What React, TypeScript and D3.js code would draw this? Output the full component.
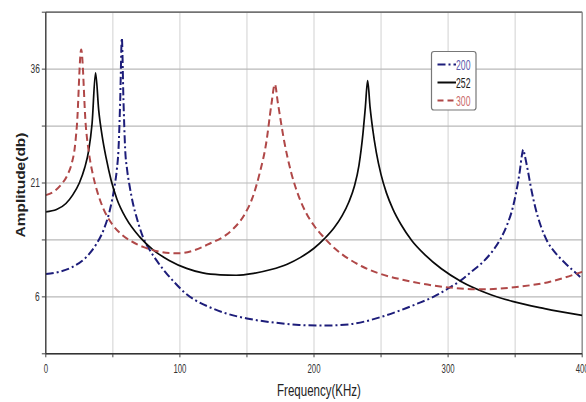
import React from "react";
import * as d3 from "d3";

// ---- Data ----
const freq200 = [0, 10, 20, 30, 37.5, 43.5, 48, 51.3, 53.0, 54.2, 55.5, 56.7, 57.9, 59.2, 60.6, 62.5, 65, 68, 72.4, 77.4, 83, 89, 96, 104, 112, 122, 134, 150, 170, 189, 207, 226, 249, 264, 277, 289, 300, 309, 318, 326, 333, 339, 344, 348, 351, 353.5, 355, 356, 357.2, 359.5, 362, 365, 369, 374, 380, 387, 393, 400];
const amp200 = [9.0, 9.3, 9.95, 11.2, 12.9, 15.0, 17.6, 20.6, 22.8, 25.4, 32, 40.1, 32, 25.4, 22.8, 20.6, 18.3, 16.3, 13.9, 12.2, 10.7, 9.3, 7.9, 6.5, 5.5, 4.65, 3.85, 3.15, 2.62, 2.3, 2.22, 2.38, 3.3, 4.2, 5.1, 6.0, 7.1, 8.1, 9.4, 10.6, 12.0, 13.6, 15.5, 17.6, 20.0, 22.6, 24.6, 25.4, 24.6, 22.6, 20.2, 17.8, 15.4, 13.3, 11.8, 10.5, 9.5, 8.4];

const freq252 = [0, 8, 15, 20, 25, 29, 32, 34.5, 37.1, 39.5, 42, 45, 48.8, 53, 60, 70, 80, 92, 105, 117, 130, 142, 155, 168, 180, 190, 200, 208, 215, 221, 226, 230, 233.5, 236.5, 238.3, 240, 241.8, 243.7, 246.5, 250, 254, 259, 265, 273, 283, 295, 310, 328, 348, 372, 400];
const amp252 = [17.2, 17.5, 18.3, 19.4, 21.0, 23.0, 25.3, 28.8, 35.5, 30.5, 27.2, 24.3, 21.3, 18.9, 16.3, 13.9, 12.2, 10.8, 9.75, 9.15, 8.9, 8.85, 9.1, 9.6, 10.3, 11.2, 12.4, 13.7, 15.1, 16.7, 18.5, 20.5, 23.3, 27.5, 31.0, 34.5, 31.0, 28.2, 25.0, 22.1, 19.7, 17.5, 15.5, 13.4, 11.5, 9.7, 8.0, 6.55, 5.4, 4.45, 3.55];

const freq300 = [0, 7, 12, 16, 19.5, 21.5, 23.2, 26.4, 29.8, 32.3, 35, 38.5, 43, 49, 56, 64, 73, 82, 92, 100, 110, 122, 134, 140, 148, 154, 159.5, 164.3, 168.2, 170.8, 173.1, 178.1, 183.1, 188.5, 194, 200, 207, 216, 226, 236, 250, 265, 280, 300, 326, 351, 376, 400];
const amp300 = [19.4, 20.0, 20.9, 22.0, 23.7, 25.5, 28.6, 38.6, 28.6, 24.8, 22.2, 19.8, 17.6, 15.7, 14.3, 13.3, 12.55, 12.05, 11.78, 11.75, 12.1, 13.0, 14.1, 15.0, 16.8, 19.0, 22.3, 26.2, 31.3, 34.0, 31.5, 26.2, 22.3, 19.3, 17.1, 15.4, 13.9, 12.3, 11.0, 10.0, 9.0, 8.3, 7.75, 7.25, 7.0, 7.3, 8.0, 9.3];

const seriesNames = ["200", "252", "300"];
const xTickLabels = [0, 100, 200, 300, 400];
const yTickLabels = [6, 21, 36];
const xTitle = "Frequency(KHz)";
const yTitle = "Amplitude(db)";

const W = 586;
const H = 402;

export default function App() {
  const x = d3.scaleLinear().domain([0, 400]).range([45.8, 582.2]);
  const y = d3.scaleLinear().domain([-1.5, 43.5]).range([353.8, 12.2]);

  const xGrid = d3.range(0, 401, 50);
  const yGrid = d3.range(-1.5, 43.6, 7.5);

  const line = d3
    .line<[number, number]>()
    .x((d) => x(d[0]))
    .y((d) => y(d[1]))
    .curve(d3.curveMonotoneX);

  const series = [
    { name: seriesNames[0], f: freq200, a: amp200, color: "#1d1d7a", dash: "8,3,2,3", width: 2, text: "#5c5cae" },
    { name: seriesNames[1], f: freq252, a: amp252, color: "#0a0a0a", dash: "", width: 1.7, text: "#1a1a1a" },
    { name: seriesNames[2], f: freq300, a: amp300, color: "#b04848", dash: "7,4", width: 2, text: "#cc6c6c" },
  ];

  const x0 = x(0);
  const x1 = x(400);
  const yTop = y(43.5);
  const yBot = y(-1.5);

  return (
    <svg
      width={W}
      height={H}
      style={{ position: "absolute", left: 0, top: 0, background: "#fff" }}
      fontFamily="'Liberation Sans', Arial, sans-serif"
    >
      <defs>
        <clipPath id="plotClip">
          <rect x={x0} y={yTop} width={x1 - x0} height={yBot - yTop} />
        </clipPath>
      </defs>
      <rect x={0} y={0} width={W} height={H} fill="#fff" />

      {/* vertical grid */}
      {xGrid.map((v) => (
        <line key={"vg" + v} x1={x(v)} x2={x(v)} y1={yTop} y2={yBot} stroke="#d9d9d9" strokeWidth={1.2} />
      ))}
      {/* horizontal grid */}
      {yGrid.map((v) => (
        <line key={"hg" + v} x1={x0} x2={x1} y1={y(v)} y2={y(v)} stroke="#b9b9b9" strokeWidth={1.2} />
      ))}

      {/* border */}
      <line x1={x0} x2={x1} y1={yTop} y2={yTop} stroke="#555" strokeWidth={1.3} />
      <line x1={x1} x2={x1} y1={yTop} y2={yBot} stroke="#8a8a8a" strokeWidth={1.3} />

      {/* series */}
      <g clipPath="url(#plotClip)">
        {series.map((s) => (
          <path
            key={s.name}
            d={line(s.f.map((f, i) => [f, s.a[i]] as [number, number])) || ""}
            fill="none"
            stroke={s.color}
            strokeWidth={s.width}
            strokeDasharray={s.dash || undefined}
            strokeLinejoin="round"
          />
        ))}
      </g>

      {/* axes */}
      <line x1={x0} x2={x1} y1={yBot} y2={yBot} stroke="#333" strokeWidth={1.5} />
      <line x1={x0} x2={x0} y1={yTop} y2={yBot} stroke="#333" strokeWidth={1.3} />
      {xGrid.map((v) => (
        <line key={"xt" + v} x1={x(v)} x2={x(v)} y1={yBot} y2={yBot + 3.5} stroke="#444" strokeWidth={1} />
      ))}
      {yGrid.map((v) => (
        <line key={"yt" + v} x1={x0 - 4} x2={x0} y1={y(v)} y2={y(v)} stroke="#444" strokeWidth={1} />
      ))}

      {/* tick labels */}
      {xTickLabels.map((v) => (
        <text
          key={"xl" + v}
          transform={`translate(${x(v)},${yBot + 19}) scale(0.6,1)`}
          textAnchor="middle"
          fontSize={13}
          fill="#333"
        >
          {v}
        </text>
      ))}
      {yTickLabels.map((v) => (
        <text
          key={"yl" + v}
          transform={`translate(${x0 - 6},${y(v) + 4}) scale(0.7,1)`}
          textAnchor="end"
          fontSize={12}
          fill="#333"
        >
          {v}
        </text>
      ))}

      {/* axis titles */}
      <text transform={`translate(319,396) scale(0.72,1)`} textAnchor="middle" fontSize={16} fill="#222">
        {xTitle}
      </text>
      <text
        transform={`translate(25,185) scale(0.82,1) rotate(-90)`}
        textAnchor="middle"
        fontSize={15.5}
        fontWeight="bold"
        fill="#222"
      >
        {yTitle}
      </text>

      {/* legend */}
      <rect x={431.5} y={51.5} width={44.5} height={58.5} rx={2.5} fill="#fff" stroke="#777" strokeWidth={1.2} />
      {series.map((s, i) => {
        const ly = 64.5 + i * 18;
        return (
          <g key={"lg" + s.name}>
            <line
              x1={437.5}
              x2={456}
              y1={ly}
              y2={ly}
              stroke={s.color}
              strokeWidth={2}
              strokeDasharray={i === 0 ? "8,3,2,3" : i === 2 ? "6,4" : undefined}
            />
            <text transform={`translate(456,${ly + 5}) scale(0.62,1)`} fontSize={14} fill={s.text}>
              {s.name}
            </text>
          </g>
        );
      })}
    </svg>
  );
}
